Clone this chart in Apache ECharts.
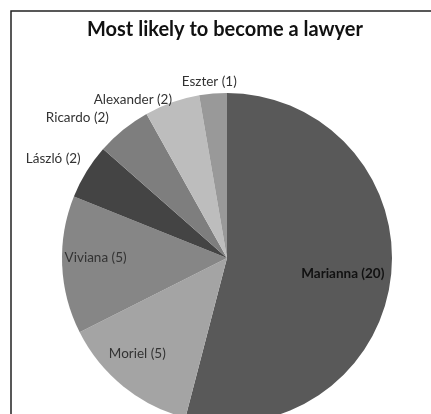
<!DOCTYPE html>
<html><head><meta charset="utf-8">
<script src="https://cdn.jsdelivr.net/npm/echarts@6/dist/echarts.min.js"></script>
<style>html,body{margin:0;padding:0;background:#fff}#c{width:431px;height:414px}</style>
</head><body><div id="c"></div>
<script>
const names = ['Marianna','Moriel','Viviana','László','Ricardo','Alexander','Eszter'];
const values = [20,5,5,2,2,2,1];
const colors = ['#595959','#a4a4a4','#868686','#444444','#7e7e7e','#bdbdbd','#999999'];
const insideFlags = [true,true,true,false,false,false,false];
const titleText = 'Most likely to become a lawyer';
// label nudges (dx, dy)
const nudges = [[31,5],[-36,29],[-46,-4],[12,-5],[0,0],[10,11],[30,3]];

const chart = echarts.init(document.getElementById('c'), null, {renderer:'canvas'});
chart.setOption({
  animation:false,
  backgroundColor:'#fff',
  title:{text:titleText,left:82,top:15,textStyle:{fontFamily:'Lato',fontWeight:'bold',fontSize:20,color:'#111'}},
  graphic:[{type:'rect',shape:{x:11,y:11,width:500,height:500},style:{fill:'none',stroke:'#222',lineWidth:1.5},silent:true}],
  series:[{
    type:'pie',
    center:[227,258],
    radius:165,
    startAngle:90,
    clockwise:true,
    avoidLabelOverlap:false,
    label:{formatter:p=>p.name+' ('+p.value+')',fontFamily:'Lato',fontSize:13.5,color:'#333'},
    labelLine:{show:false,length:15,length2:0},
    labelLayout:function(p){const n=nudges[p.dataIndex];return {dx:n[0],dy:n[1]};},
    itemStyle:{borderWidth:0},
    emphasis:{disabled:true},
    data:names.map((n,i)=>({name:n,value:values[i],itemStyle:{color:colors[i]},
      label:{position:insideFlags[i]?'inside':'outside',color:i===0?'#111':'#333',fontWeight:i===0?'bold':'normal'}}))
  }]
});
</script></body></html>
